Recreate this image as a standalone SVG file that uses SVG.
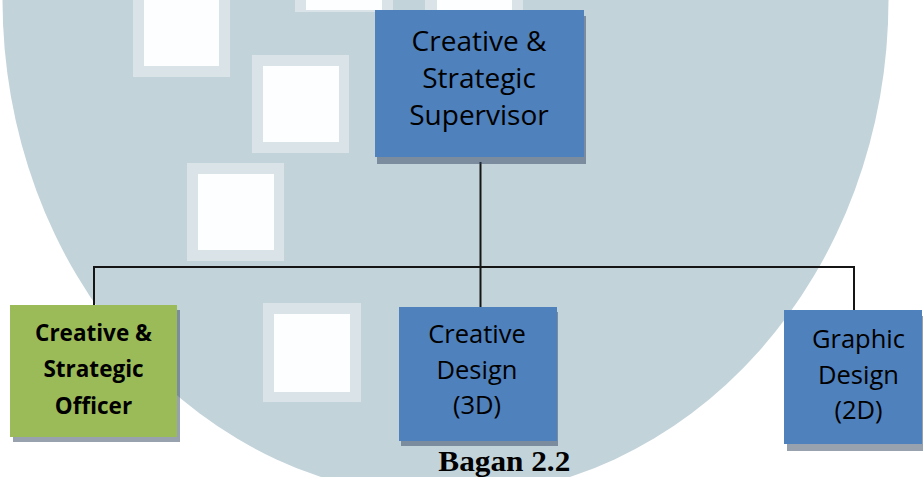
<svg xmlns="http://www.w3.org/2000/svg" width="923" height="477" viewBox="0 0 923 477">
  <style>
    .wm { fill: #C2D3DA; }
    .wm-edge { fill: #DAE4E8; }
    .wm-sq { fill: #FDFEFF; }
    .shadow { fill: #32465F; fill-opacity: 0.5; }
    .blue { fill: #4F81BD; }
    .green { fill: #9BBB59; }
    .lbl { font-family: "Open Sans", "Noto Sans", "Liberation Sans", sans-serif; fill: #000; text-anchor: middle; }
    .lbl-bold { font-weight: bold; }
    .link { stroke: #151515; stroke-width: 2; fill: none; }
    .caption { font-family: "Liberation Serif", "Times New Roman", serif; font-weight: bold; font-size: 30px; fill: #000; text-anchor: middle; }
  </style>

  <!-- page background and faded emblem -->
  <rect width="923" height="477" fill="#FFFFFF"/>
  <g id="emblem">
    <ellipse class="wm" cx="445.5" cy="0" rx="443" ry="497"/>
    <!-- light squares inside the emblem -->
    <rect class="wm-edge" x="133" y="-5" width="97" height="82"/>
    <rect class="wm-sq" x="144" y="-5" width="75" height="71"/>
    <rect class="wm-edge" x="252" y="55" width="97" height="98"/>
    <rect class="wm-sq" x="263" y="66" width="76" height="76"/>
    <rect class="wm-edge" x="187" y="163" width="97" height="98"/>
    <rect class="wm-sq" x="198" y="174" width="76" height="76"/>
    <rect class="wm-edge" x="263" y="303" width="98" height="99"/>
    <rect class="wm-sq" x="274" y="314" width="76" height="78"/>
    <rect class="wm-edge" x="295" y="-5" width="98" height="17"/>
    <rect class="wm-sq" x="306" y="-5" width="76" height="15"/>
    <rect class="wm-edge" x="425" y="-5" width="98" height="17"/>
    <rect class="wm-sq" x="437" y="-5" width="75" height="15"/>
  </g>

  <!-- connectors -->
  <g id="connectors">
    <line class="link" x1="480.5" y1="162" x2="480.5" y2="307"/>
    <polyline class="link" points="94,305 94,267 854,267 854,310"/>
  </g>

  <g id="supervisor">
    <rect class="shadow" x="377" y="16" width="209" height="148"/>
    <rect class="blue" x="375" y="10" width="209" height="147"/>
    <text class="lbl" font-size="28" x="479" y="50.7">Creative &amp;</text>
    <text class="lbl" font-size="28" x="479" y="88.3">Strategic</text>
    <text class="lbl" font-size="28" x="479" y="125">Supervisor</text>
  </g>

  <g id="officer">
    <rect class="shadow" x="13" y="310" width="167" height="132"/>
    <rect class="green" x="10" y="305" width="167" height="132"/>
    <text class="lbl lbl-bold" font-size="22.5" x="93.5" y="340.7">Creative &amp;</text>
    <text class="lbl lbl-bold" font-size="22.5" x="93.5" y="376.7">Strategic</text>
    <text class="lbl lbl-bold" font-size="22.5" x="93.5" y="414">Officer</text>
  </g>

  <g id="design-3d">
    <rect class="shadow" x="401" y="312" width="157" height="134"/>
    <rect class="blue" x="399" y="307" width="158" height="134"/>
    <text class="lbl" font-size="25.5" x="477" y="343.3">Creative</text>
    <text class="lbl" font-size="25.5" x="477" y="379.3">Design</text>
    <text class="lbl" font-size="25.5" x="477" y="414">(3D)</text>
  </g>

  <g id="design-2d">
    <rect class="shadow" x="787" y="316" width="136" height="135"/>
    <rect class="blue" x="784" y="310" width="138" height="134"/>
    <text class="lbl" font-size="25.5" x="858.5" y="348.3">Graphic</text>
    <text class="lbl" font-size="25.5" x="858.5" y="384.3">Design</text>
    <text class="lbl" font-size="25.5" x="858.5" y="419">(2D)</text>
  </g>

  <text class="caption" x="504.3" y="470.5" textLength="132" lengthAdjust="spacingAndGlyphs">Bagan 2.2</text>
</svg>
